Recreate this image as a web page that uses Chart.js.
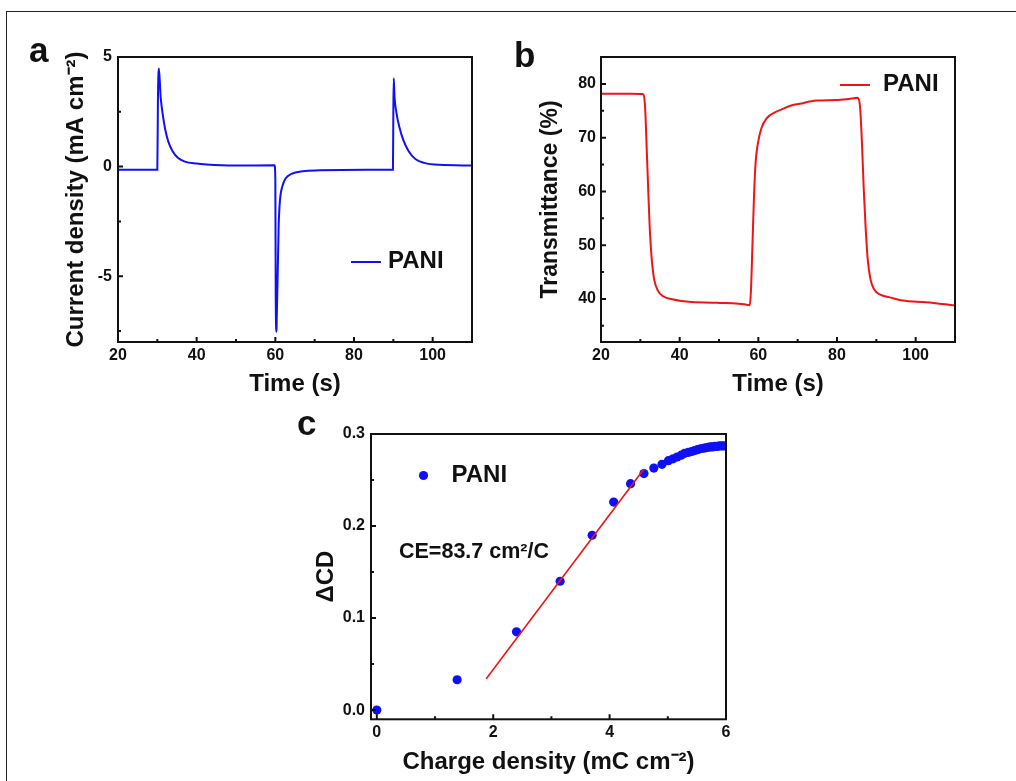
<!DOCTYPE html>
<html><head><meta charset="utf-8">
<script src="https://cdn.jsdelivr.net/npm/chart.js@4.4.0/dist/chart.umd.min.js"></script>
<style>
html,body{margin:0;padding:0;background:#fff;width:1016px;height:781px;overflow:hidden;}
#wrap{position:relative;width:1016px;height:781px;}
canvas{position:absolute;}
.hline{position:absolute;left:6px;top:11px;width:1010px;height:1px;background:#222;}
.vline{position:absolute;left:6px;top:11px;width:1px;height:770px;background:#222;}
</style></head>
<body><div id="wrap">
<div class="hline"></div><div class="vline"></div>
<canvas id="ca" width="500" height="400" style="left:0;top:0"></canvas>
<canvas id="cb" width="516" height="400" style="left:500px;top:0"></canvas>
<canvas id="cc" width="480" height="381" style="left:280px;top:400px"></canvas>
</div>
<script>
// ---------- data: panel a (current density vs time) ----------
const timeA = [20, 30.0, 30.15, 30.4, 30.83, 31.33, 31.93, 32.77, 33.88, 35.3, 37.0, 40.0, 42.5, 49.3, 59.8,
  60.0, 60.1, 60.3, 60.35, 60.6, 60.85, 61.2, 61.8, 62.6, 64.1, 67.0, 71.3, 83.2, 89.9,
  90.0, 90.1, 90.3, 90.8, 91.5, 92.5, 93.9, 95.6, 97.9, 101.7, 110];
const currentA = [-0.14, -0.14, 3.05, 4.48, 3.2, 2.44, 1.76, 1.15, 0.70, 0.39, 0.23, 0.14, 0.10, 0.05, 0.06,
  -0.6, -6.05, -7.53, -7.0, -4.9, -2.68, -1.5, -0.89, -0.54, -0.33, -0.21, -0.17, -0.14, -0.14,
  2.45, 4.03, 3.2, 2.44, 1.83, 1.23, 0.70, 0.35, 0.17, 0.08, 0.05];

// ---------- data: panel b (transmittance vs time) ----------
const timeB = [20, 27.4, 30.6, 31.2, 31.6, 32.0, 32.4, 32.9, 33.5, 34.5, 35.8, 38.4, 42.2, 49.4, 57.4, 57.8,
  58.1, 58.5, 58.9, 59.3, 59.9, 60.8, 62.1, 64.2, 66.7, 68.0, 70.5, 74.7, 79.8, 83.0, 85.3,
  85.9, 86.4, 86.8, 87.3, 87.8, 88.5, 89.5, 91.0, 93.4, 96.7, 102.6, 110];
const transB = [78.15, 78.15, 78.1, 75.8, 68.4, 60.4, 53.0, 47.4, 43.7, 41.5, 40.5, 39.9, 39.5, 39.3, 38.9, 38.8,
  41.2, 49.9, 59.1, 65.3, 69.0, 71.8, 73.6, 74.7, 75.5, 75.9, 76.3, 76.9, 77.0, 77.2, 77.4,
  75.4, 68.0, 60.4, 53.0, 47.4, 43.7, 41.7, 40.8, 40.3, 39.7, 39.4, 38.8];

// ---------- data: panel c (delta OD vs charge density) ----------
const chargeC = [0.0, 1.38, 2.40, 3.15, 3.70, 4.07, 4.36, 4.59, 4.76, 4.90, 5.01, 5.09, 5.16, 5.23, 5.29, 5.35,
  5.41, 5.46, 5.51, 5.56, 5.61, 5.65, 5.69, 5.73, 5.77, 5.81, 5.85, 5.89, 5.93, 5.97];
const deltaCD = [0.000, 0.033, 0.085, 0.140, 0.190, 0.226, 0.246, 0.257, 0.263, 0.267, 0.271, 0.273, 0.275, 0.277, 0.279, 0.280,
  0.281, 0.282, 0.283, 0.284, 0.2845, 0.285, 0.2855, 0.286, 0.286, 0.2865, 0.2865, 0.287, 0.287, 0.287];
const fitX = [1.88, 4.59];
const fitY = [0.034, 0.262];

// ---------- tick labels ----------
const ticksAX = [20, 40, 60, 80, 100], minorAX = [30, 50, 70, 90];
const ticksAY = [-5, 0, 5], minorAY = [-7.5, -2.5, 2.5];
const ticksBX = [20, 40, 60, 80, 100], minorBX = [30, 50, 70, 90];
const ticksBY = [40, 50, 60, 70, 80], minorBY = [35, 45, 55, 65, 75];
const ticksCX = [0, 2, 4, 6], minorCX = [1, 3, 5];
const ticksCY = [0, 0.1, 0.2, 0.3], minorCY = [0.05, 0.15, 0.25];

const seriesName = 'PANI';
const ceText = 'CE=83.7 cm²/C';

// ---------- styling ----------
const FONT = '"Liberation Sans", Arial, Helvetica, sans-serif';
const INK = '#111111';
const BLUE = '#1010f5';
const RED = '#f01414';

const deco = {
  id: 'deco',
  afterDraw(chart, args, o) {
    const {ctx, chartArea: a} = chart;
    const xs = chart.scales.x, ys = chart.scales.y;
    ctx.save();
    ctx.strokeStyle = INK;
    ctx.lineWidth = 2;
    ctx.beginPath();
    o.xMajor.forEach(v => { const p = xs.getPixelForValue(v); ctx.moveTo(p, a.bottom); ctx.lineTo(p, a.bottom - 5); });
    o.xMinor.forEach(v => { const p = xs.getPixelForValue(v); ctx.moveTo(p, a.bottom); ctx.lineTo(p, a.bottom - 3); });
    o.yMajor.forEach(v => { const p = ys.getPixelForValue(v); ctx.moveTo(a.left, p); ctx.lineTo(a.left + 5, p); });
    o.yMinor.forEach(v => { const p = ys.getPixelForValue(v); ctx.moveTo(a.left, p); ctx.lineTo(a.left + 3, p); });
    ctx.stroke();
    ctx.strokeRect(a.left, a.top, a.right - a.left, a.bottom - a.top);
    // panel letter
    ctx.fillStyle = INK;
    ctx.textBaseline = 'alphabetic';
    ctx.textAlign = 'left';
    ctx.font = 'bold 35px ' + FONT;
    ctx.fillText(o.letter[0], o.letter[1], o.letter[2]);
    // legend
    const L = o.legend;
    if (L.kind === 'line') {
      ctx.strokeStyle = L.color; ctx.lineWidth = 2;
      ctx.beginPath(); ctx.moveTo(L.x0, L.ly); ctx.lineTo(L.x1, L.ly); ctx.stroke();
    } else {
      ctx.fillStyle = L.color;
      ctx.beginPath(); ctx.arc(L.x0, L.ly, 4.6, 0, Math.PI * 2); ctx.fill();
    }
    ctx.fillStyle = INK;
    ctx.font = 'bold 24px ' + FONT;
    ctx.fillText(L.text, L.tx, L.ty);
    if (o.note) {
      ctx.font = 'bold 21.5px ' + FONT;
      ctx.fillText(o.note[0], o.note[1], o.note[2]);
    }
    ctx.restore();
  }
};

function axis(cfg) {
  return {
    type: 'linear',
    min: cfg.min, max: cfg.max,
    grid: { display: false, drawTicks: false },
    border: { display: false },
    afterBuildTicks: s => { s.ticks = cfg.ticks.map(v => ({ value: v })); },
    afterFit: s => { if (cfg.w !== undefined) s.width = cfg.w; if (cfg.h !== undefined) s.height = cfg.h; },
    ticks: {
      color: INK, padding: cfg.tp,
      font: { family: FONT, size: 16, weight: 'bold' },
      callback: cfg.fmt || (v => String(v))
    },
    title: {
      display: true, text: cfg.title, color: INK,
      font: { family: FONT, size: cfg.ts || 24, weight: 'bold', lineHeight: 1 },
      padding: cfg.titlePad
    }
  };
}

Chart.defaults.animation = false;

// ---------- panel a ----------
new Chart(document.getElementById('ca'), {
  type: 'line',
  data: { datasets: [{ label: seriesName, data: timeA.map((t, i) => ({ x: t, y: currentA[i] })),
    borderColor: BLUE, borderWidth: 2, pointRadius: 0, cubicInterpolationMode: 'monotone', fill: false }] },
  options: {
    responsive: false, devicePixelRatio: 1, parsing: false,
    layout: { padding: { left: 0, top: 57, right: 28, bottom: 0 } },
    plugins: {
      legend: { display: false }, tooltip: { enabled: false },
      deco: { xMajor: ticksAX, xMinor: minorAX, yMajor: ticksAY, yMinor: minorAY,
        letter: ['a', 29, 62],
        legend: { kind: 'line', color: BLUE, x0: 351, x1: 381, ly: 262, text: seriesName, tx: 388, ty: 268 } }
    },
    scales: {
      x: axis({ min: 20, max: 110, ticks: ticksAX, h: 58, tp: 4, title: 'Time (s)', titlePad: { top: 0, bottom: 4 } }),
      y: axis({ min: -8, max: 5, ticks: ticksAY, w: 118, tp: 6, title: 'Current density (mA cm⁻²)', titlePad: { top: 64, bottom: 0 } })
    }
  },
  plugins: [deco]
});

// ---------- panel b ----------
new Chart(document.getElementById('cb'), {
  type: 'line',
  data: { datasets: [{ label: seriesName, data: timeB.map((t, i) => ({ x: t, y: transB[i] })),
    borderColor: RED, borderWidth: 2, pointRadius: 0, cubicInterpolationMode: 'monotone', fill: false }] },
  options: {
    responsive: false, devicePixelRatio: 1, parsing: false,
    layout: { padding: { left: 0, top: 57, right: 61, bottom: 0 } },
    plugins: {
      legend: { display: false }, tooltip: { enabled: false },
      deco: { xMajor: ticksBX, xMinor: minorBX, yMajor: ticksBY, yMinor: minorBY,
        letter: ['b', 14, 67],
        legend: { kind: 'line', color: RED, x0: 340, x1: 370, ly: 85, text: seriesName, tx: 383, ty: 91 } }
    },
    scales: {
      x: axis({ min: 20, max: 110, ticks: ticksBX, h: 58, tp: 4, title: 'Time (s)', titlePad: { top: 0, bottom: 4 } }),
      y: axis({ min: 32, max: 85, ticks: ticksBY, w: 101, tp: 5, title: 'Transmittance (%)', ts: 23, titlePad: { top: 39.5, bottom: 0 } })
    }
  },
  plugins: [deco]
});

// ---------- panel c ----------
new Chart(document.getElementById('cc'), {
  type: 'scatter',
  data: { datasets: [
    { type: 'line', label: 'fit', data: fitX.map((x, i) => ({ x, y: fitY[i] })),
      borderColor: RED, borderWidth: 1.6, pointRadius: 0, tension: 0, fill: false, order: 0 },
    { type: 'scatter', label: seriesName, data: chargeC.map((x, i) => ({ x, y: deltaCD[i] })),
      backgroundColor: BLUE, borderWidth: 0, pointRadius: 4.6, order: 1 }
  ] },
  options: {
    responsive: false, devicePixelRatio: 1, parsing: false,
    layout: { padding: { left: 0, top: 34, right: 34, bottom: 0 } },
    plugins: {
      legend: { display: false }, tooltip: { enabled: false },
      deco: { xMajor: ticksCX, xMinor: minorCX, yMajor: ticksCY, yMinor: minorCY,
        letter: ['c', 17, 35],
        legend: { kind: 'point', color: BLUE, x0: 143.5, ly: 75.5, text: seriesName, tx: 171.5, ty: 82 },
        note: [ceText, 119, 158] }
    },
    scales: {
      x: axis({ min: -0.1, max: 6, ticks: ticksCX, h: 61.7, tp: 4, title: 'Charge density (mC cm⁻²)', titlePad: { top: 0, bottom: 7 } }),
      y: axis({ min: -0.01, max: 0.3, ticks: ticksCY, w: 91, tp: 6, fmt: v => v.toFixed(1), title: 'ΔCD', titlePad: { top: 34.5, bottom: 0 } })
    }
  },
  plugins: [deco]
});
</script>
</body></html>
